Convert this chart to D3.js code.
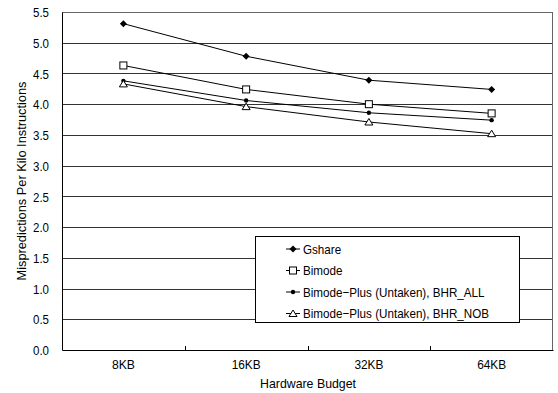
<!DOCTYPE html>
<html>
<head>
<meta charset="utf-8">
<script src="https://cdn.jsdelivr.net/npm/d3@7"></script>
<style>
  body { margin: 0; background: #fff; }
  svg text { font-family: "Liberation Sans", Arial, sans-serif; fill: #000; }
</style>
</head>
<body>
<svg id="chart" width="558" height="393"></svg>
<script>
// Hardware budgets along the x axis
const budgets = ["8KB", "16KB", "32KB", "64KB"];

// Mispredictions per kilo instructions for each predictor
const gshare   = [5.31, 4.78, 4.39, 4.24];
const bimode   = [4.63, 4.24, 4.00, 3.85];
const bhrAll   = [4.38, 4.06, 3.86, 3.74];
const bhrNob   = [4.33, 3.96, 3.71, 3.52];

const seriesNames = ["Gshare", "Bimode", "Bimode\u2212Plus (Untaken), BHR_ALL", "Bimode\u2212Plus (Untaken), BHR_NOB"];
const seriesValues = [gshare, bimode, bhrAll, bhrNob];
const seriesSymbols = ["diamond", "square", "dot", "triangle"];

const yTicks = [0.0, 0.5, 1.0, 1.5, 2.0, 2.5, 3.0, 3.5, 4.0, 4.5, 5.0, 5.5];

const svg = d3.select("#chart");
const m = { left: 62, right: 5, top: 12, bottom: 43 };
const W = 558, H = 393;
const x0 = m.left, x1 = W - m.right, y0 = H - m.bottom, y1 = m.top;
const FS = 13;

const x = d3.scaleBand().domain(budgets).range([x0, x1]);
const y = d3.scaleLinear().domain([0, 5.5]).range([y0, y1]);

// squeeze a text element horizontally to a given width
function fit(sel, w) {
  sel.attr("textLength", w).attr("lengthAdjust", "spacingAndGlyphs");
}

// horizontal gridlines
svg.append("g").selectAll("line").data(yTicks.filter(v => v > 0 && v < 5.5)).join("line")
  .attr("x1", x0).attr("x2", x1)
  .attr("y1", d => Math.round(y(d)) + 0.5).attr("y2", d => Math.round(y(d)) + 0.5)
  .attr("stroke", "#333").attr("stroke-width", 1);

// frame: top/right lighter, left/bottom axis lines black
svg.append("line").attr("x1", x0).attr("x2", x1).attr("y1", y1 + 0.5).attr("y2", y1 + 0.5).attr("stroke", "#666");
svg.append("line").attr("x1", x1 - 0.5).attr("x2", x1 - 0.5).attr("y1", y1).attr("y2", y0).attr("stroke", "#666");

// y axis
const yAxis = d3.axisLeft(y).tickValues(yTicks).tickFormat(d3.format(".1f")).tickSize(0).tickPadding(13);
const gy = svg.append("g").attr("transform", `translate(${x0},0)`).call(yAxis);
gy.select(".domain").attr("stroke", "#000");
gy.selectAll("text").attr("font-size", FS).attr("dy", "0.36em").each(function () { fit(d3.select(this), 16); });

// x axis with inside ticks at category boundaries
const gx = svg.append("g").attr("transform", `translate(0,${y0})`)
  .call(d3.axisBottom(x).tickSize(0).tickPadding(10));
gx.select(".domain").attr("stroke", "#000");
gx.selectAll("text").attr("font-size", FS).each(function (d) { fit(d3.select(this), d === "8KB" ? 23 : 29); });
svg.append("g").selectAll("line").data(budgets.slice(1)).join("line")
  .attr("x1", d => Math.round(x(d)) + 0.5).attr("x2", d => Math.round(x(d)) + 0.5)
  .attr("y1", y0).attr("y2", y0 - 4).attr("stroke", "#000");

// axis titles
svg.append("text").attr("x", 308).attr("y", 388).attr("text-anchor", "middle")
  .attr("font-size", FS).text("Hardware Budget").call(fit, 96);
svg.append("text").attr("transform", `translate(26,${(y0 + y1) / 2}) rotate(-90)`)
  .attr("text-anchor", "middle").attr("font-size", FS)
  .text("Mispredictions Per Kilo Instructions").call(fit, 199);

// marker drawing
function drawSymbol(g, kind, cx, cy) {
  if (kind === "diamond") {
    g.append("path").attr("d", `M${cx},${cy - 3.5}L${cx + 3.5},${cy}L${cx},${cy + 3.5}L${cx - 3.5},${cy}Z`).attr("fill", "#000");
  } else if (kind === "square") {
    g.append("rect").attr("x", cx - 3.5).attr("y", cy - 3.5).attr("width", 7).attr("height", 7)
      .attr("fill", "#fff").attr("stroke", "#000");
  } else if (kind === "dot") {
    g.append("circle").attr("cx", cx).attr("cy", cy).attr("r", 2.2).attr("fill", "#000");
  } else {
    g.append("path").attr("d", `M${cx},${cy - 3.5}L${cx + 4},${cy + 3}L${cx - 4},${cy + 3}Z`)
      .attr("fill", "#fff").attr("stroke", "#000");
  }
}

const line = d3.line().x((d, i) => x(budgets[i]) + x.bandwidth() / 2).y(d => y(d));
seriesValues.forEach((vals, si) => {
  const g = svg.append("g");
  g.append("path").attr("d", line(vals)).attr("fill", "none").attr("stroke", "#000").attr("stroke-width", 1);
  vals.forEach((v, i) => drawSymbol(g, seriesSymbols[si], x(budgets[i]) + x.bandwidth() / 2, y(v)));
});

// legend
const lg = svg.append("g");
lg.append("rect").attr("x", 255.5).attr("y", 236.5).attr("width", 264).attr("height", 86)
  .attr("fill", "#fff").attr("stroke", "#000");
const labels = [];
seriesNames.forEach((name, i) => {
  const cy = 249 + i * 21.5;
  lg.append("line").attr("x1", 286).attr("x2", 300).attr("y1", cy).attr("y2", cy).attr("stroke", "#000");
  drawSymbol(lg, seriesSymbols[i], 293, cy);
  labels.push(lg.append("text").attr("x", 303).attr("y", cy + 4.5).attr("font-size", FS).text(name));
});
// condense legend text uniformly so the longest entry spans 186px
const longest = labels[3].node().getComputedTextLength();
const k = 186 / longest;
labels.forEach(t => fit(t, t.node().getComputedTextLength() * k));
</script>
</body>
</html>
